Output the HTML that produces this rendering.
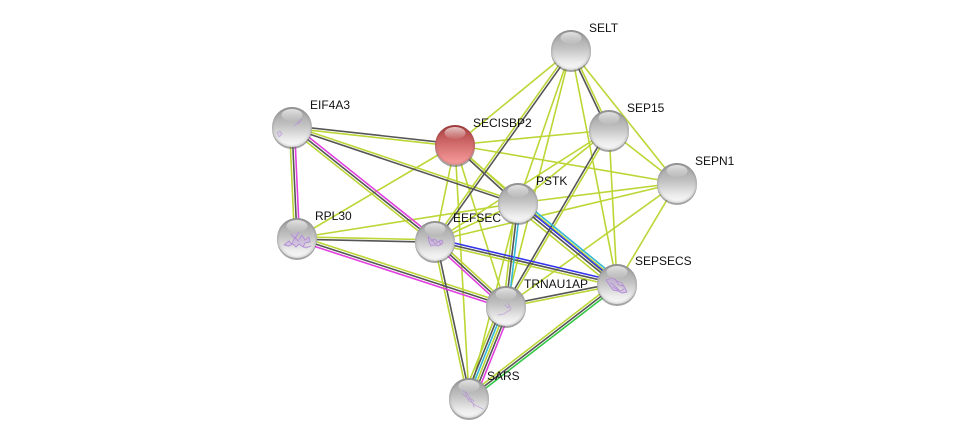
<!DOCTYPE html>
<html><head><meta charset="utf-8"><style>
html,body{margin:0;padding:0;background:#fff}
svg{display:block}
text{font-family:"Liberation Sans",sans-serif;font-size:12px;fill:#111}
.y line{stroke:#bcd636}.d line{stroke:#555}.m line{stroke:#e23fe0}.b line{stroke:#3333ee}.c line{stroke:#33b8d6}.g line{stroke:#33c844}
line{stroke-width:1.6}
.p{fill:#c8a8e4;fill-opacity:.45;stroke:#b48fd6;stroke-width:.9;stroke-linecap:round;stroke-linejoin:round}
</style></head><body>
<svg width="976" height="443" viewBox="0 0 976 443" xmlns="http://www.w3.org/2000/svg">
<defs>
<linearGradient id="s" x1="0" y1="0" x2="0" y2="1"><stop offset="0" stop-color="#9a9a9a"/><stop offset=".45" stop-color="#c2c2c2"/><stop offset=".8" stop-color="#ececec"/><stop offset="1" stop-color="#f8f8f8"/></linearGradient>
<linearGradient id="r" x1="0" y1="0" x2="0" y2="1"><stop offset="0" stop-color="#a83c3c"/><stop offset=".45" stop-color="#cf6a6a"/><stop offset=".85" stop-color="#f09090"/><stop offset="1" stop-color="#f4a0a0"/></linearGradient>
<radialGradient id="e" cx=".5" cy=".5" r=".5"><stop offset=".86" stop-color="#000" stop-opacity="0"/><stop offset="1" stop-color="#000" stop-opacity=".12"/></radialGradient>
<linearGradient id="h" x1="0" y1="0" x2="0" y2="1"><stop offset="0" stop-color="#fff" stop-opacity=".7"/><stop offset="1" stop-color="#fff" stop-opacity=".05"/></linearGradient>
<filter id="f" x="-20%" y="-20%" width="140%" height="140%"><feGaussianBlur stdDeviation=".35"/></filter>
<g id="base"><circle cx="0" cy="2" r="20" fill="#666" opacity=".6"/></g>
<g id="top"><circle r="20" fill="url(#e)"/><ellipse cx="0" cy="-12" rx="10.5" ry="6" fill="url(#h)"/></g>
</defs>

<g class="y">
<line x1="571" y1="50" x2="455" y2="145"/>
<line x1="571" y1="50" x2="518" y2="203"/>
<line x1="571" y1="50" x2="506" y2="306"/>
<line x1="571" y1="50" x2="677" y2="183"/>
<line x1="571" y1="50" x2="617" y2="284"/>
<line x1="570" y1="49.3" x2="434" y2="240.3"/>
<line x1="572" y1="49.5" x2="610" y2="129.5"/>
<line x1="609" y1="130" x2="455" y2="145"/>
<line x1="609" y1="130" x2="518" y2="203"/>
<line x1="609" y1="130" x2="435" y2="241"/>
<line x1="609" y1="130" x2="677" y2="183"/>
<line x1="609" y1="130" x2="617" y2="284"/>
<line x1="610" y1="130.6" x2="507" y2="306.6"/>
<line x1="677" y1="183" x2="455" y2="145"/>
<line x1="677" y1="183" x2="518" y2="203"/>
<line x1="677" y1="183" x2="435" y2="241"/>
<line x1="677" y1="183" x2="617" y2="284"/>
<line x1="677" y1="183" x2="506" y2="306"/>
<line x1="455" y1="145" x2="297" y2="238"/>
<line x1="455" y1="145" x2="435" y2="241"/>
<line x1="455" y1="145" x2="506" y2="306"/>
<line x1="455" y1="145" x2="617" y2="284"/>
<line x1="455" y1="145" x2="469" y2="398"/>
<line x1="455.8" y1="144.1" x2="518.8" y2="202.1"/>
<line x1="292" y1="128.2" x2="455" y2="146.2"/>
<line x1="292.4" y1="125.9" x2="518.4" y2="201.9"/>
<line x1="290.4" y1="129" x2="433.4" y2="243"/>
<line x1="289.5" y1="127" x2="294.5" y2="238"/>
<line x1="297" y1="238" x2="518" y2="203"/>
<line x1="297" y1="236.8" x2="435" y2="239.8"/>
<line x1="297.8" y1="235.6" x2="506.8" y2="303.6"/>
<line x1="435" y1="241" x2="518" y2="203"/>
<line x1="434.4" y1="243.4" x2="616.4" y2="286.4"/>
<line x1="436.7" y1="239.2" x2="507.7" y2="304.2"/>
<line x1="433.8" y1="241.3" x2="467.8" y2="398.3"/>
<line x1="519.6" y1="201.1" x2="618.6" y2="282.1"/>
<line x1="515.5" y1="206.9" x2="614.5" y2="287.9"/>
<line x1="515.5" y1="202.7" x2="503.5" y2="305.7"/>
<line x1="518" y1="203" x2="469" y2="398"/>
<line x1="506" y1="307.2" x2="617" y2="285.2"/>
<line x1="500.4" y1="303.8" x2="463.4" y2="395.8"/>
<line x1="507.1" y1="306.5" x2="470.1" y2="398.5"/>
<line x1="615.5" y1="282.1" x2="467.5" y2="396.1"/>
</g>
<g class="d">
<line x1="572" y1="50.7" x2="436" y2="241.7"/>
<line x1="570" y1="50.5" x2="608" y2="130.5"/>
<line x1="608" y1="129.4" x2="505" y2="305.4"/>
<line x1="292" y1="125.8" x2="455" y2="143.8"/>
<line x1="291.6" y1="128.1" x2="517.6" y2="204.1"/>
<line x1="292" y1="127" x2="435" y2="241"/>
<line x1="292" y1="127" x2="297" y2="238"/>
<line x1="297" y1="239.2" x2="435" y2="242.2"/>
<line x1="297" y1="238" x2="506" y2="306"/>
<line x1="435" y1="241" x2="617" y2="284"/>
<line x1="435" y1="241" x2="506" y2="306"/>
<line x1="436.2" y1="240.7" x2="470.2" y2="397.7"/>
<line x1="454.2" y1="145.9" x2="517.2" y2="203.9"/>
<line x1="517" y1="204" x2="616" y2="285"/>
<line x1="518" y1="203" x2="506" y2="306"/>
<line x1="506" y1="304.8" x2="617" y2="282.8"/>
<line x1="502.7" y1="304.7" x2="465.7" y2="396.7"/>
<line x1="509.3" y1="307.4" x2="472.3" y2="399.4"/>
<line x1="617" y1="284" x2="469" y2="398"/>
</g>
<g class="m">
<line x1="293.6" y1="125" x2="436.6" y2="239"/>
<line x1="294.5" y1="127" x2="299.5" y2="238"/>
<line x1="296.2" y1="240.4" x2="505.2" y2="308.4"/>
<line x1="433.3" y1="242.8" x2="504.3" y2="307.8"/>
<line x1="511.6" y1="308.2" x2="474.6" y2="400.2"/>
</g>
<g class="b">
<line x1="435.6" y1="238.6" x2="617.6" y2="281.6"/>
<line x1="518.8" y1="202" x2="617.8" y2="283"/>
</g>
<g class="c">
<line x1="521" y1="199.6" x2="620" y2="280.6"/>
<line x1="520.5" y1="203.3" x2="508.5" y2="306.3"/>
<line x1="504.9" y1="305.6" x2="467.9" y2="397.6"/>
</g>
<g class="g">
<line x1="618.5" y1="285.9" x2="470.5" y2="399.9"/>
</g>

<g transform="translate(571,50)"><use href="#base"/><circle r="20" fill="url(#s)"/><use href="#top"/></g>
<g transform="translate(609,130)"><use href="#base"/><circle r="20" fill="url(#s)"/><use href="#top"/></g>
<g transform="translate(677,183)"><use href="#base"/><circle r="20" fill="url(#s)"/><use href="#top"/></g>
<g transform="translate(518,203)"><use href="#base"/><circle r="20" fill="url(#s)"/><use href="#top"/></g>
<g transform="translate(455,145)"><use href="#base"/><circle r="20" fill="url(#r)"/><use href="#top"/></g>
<g transform="translate(292,127)"><use href="#base"/><circle r="20" fill="url(#s)"/><path class="p" filter="url(#f)" d="M-15 6l3-2 2 3-3 3zM2 -1l8-7M6 -3l3-3" opacity=".6"/><use href="#top"/></g>
<g transform="translate(297,238)"><use href="#base"/><circle r="20" fill="url(#s)"/><path class="p" filter="url(#f)" d="M-13 7l5-4 3 3 3-7 3 4 4-6 3 5 4-3 1 5-5 1-2 4-4-3-3 3-3-3-4 2zM-6 -4l4 5 4-7M3 7l6 3 5-2"/><use href="#top"/></g>
<g transform="translate(435,241)"><use href="#base"/><circle r="20" fill="url(#s)"/><path class="p" filter="url(#f)" d="M-7 -5l4 5 3-2 2 3 5-2 1 3-5 3-4-1-3 1-2-4zM-3 -2l3 5 4-3 2 4"/><use href="#top"/></g>
<g transform="translate(617,284)"><use href="#base"/><circle r="20" fill="url(#s)"/><path class="p" filter="url(#f)" d="M-11 -4l6-2 5 3 5 2 3 5 2 4-5 1-4-2-5-1-3-4zM-6 -1l5 4 4 4 4-2M-2 -5l4 6 5 1M-4 3l5 3"/><use href="#top"/></g>
<g transform="translate(506,306)"><use href="#base"/><circle r="20" fill="url(#s)"/><path class="p" filter="url(#f)" style="fill:none" d="M-1 -1l3 3 2-2 1 3-2 2M-8 9l6-1 4-3M3 0l-1-3" opacity=".6"/><use href="#top"/></g>
<g transform="translate(469,398)"><use href="#base"/><circle r="20" fill="url(#s)"/><path class="p" filter="url(#f)" style="fill:none" d="M-6 -8l3 4 1 4 4 2 2 4 4 2 6 3M-7 -4l5 3 2 4 4 2 1 4M-3 -6l4 6 4 3" opacity=".7"/><use href="#top"/></g>

<text x="589" y="32">SELT</text>
<text x="627" y="112">SEP15</text>
<text x="695" y="165">SEPN1</text>
<text x="473" y="127">SECISBP2</text>
<text x="310" y="109">EIF4A3</text>
<text x="536" y="185">PSTK</text>
<text x="315" y="220">RPL30</text>
<text x="453" y="222">EEFSEC</text>
<text x="635" y="265">SEPSECS</text>
<text x="524" y="288">TRNAU1AP</text>
<text x="487" y="380">SARS</text>
</svg>
</body></html>
